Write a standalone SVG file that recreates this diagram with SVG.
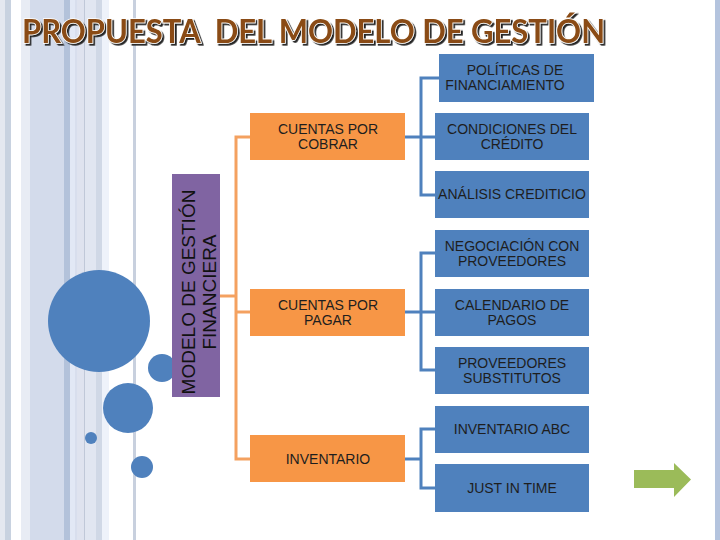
<svg xmlns="http://www.w3.org/2000/svg" width="720" height="540" viewBox="0 0 720 540">
<style>
.ob{fill:#f79646}
.bb{fill:#4f81bd}
.t{font-family:"Liberation Sans",Arial,sans-serif;font-size:14px;fill:#1e1e1e;text-anchor:middle}
.oc{fill:none;stroke:#f4a160;stroke-width:3}
.bc{fill:none;stroke:#4f81bd;stroke-width:3}
.dot{fill:#4f81bd}
</style>
<defs>
<filter id="shadow" x="-5%" y="-20%" width="110%" height="150%">
<feDropShadow dx="1.8" dy="1.8" stdDeviation="0.3" flood-color="#222222" flood-opacity="1"/>
</filter>
</defs>
<rect width="720" height="540" fill="#ffffff"/>
<g id="background">
<rect x="0" y="0" width="5" height="540" fill="#e4e8f0"/>
<rect x="5" y="0" width="6" height="540" fill="#c8d2e0"/>
<rect x="21" y="0" width="9" height="540" fill="#e8ecf4"/>
<rect x="30" y="0" width="34" height="540" fill="#d3dbeb"/>
<rect x="64" y="0" width="6" height="540" fill="#b3c2da"/>
<rect x="70" y="0" width="5" height="540" fill="#e2e8f5"/>
<rect x="75" y="0" width="2" height="540" fill="#d8deed"/>
<rect x="77" y="0" width="7" height="540" fill="#dfe3ef"/>
<rect x="84" y="0" width="1" height="540" fill="#c0c8d8"/>
<rect x="85" y="0" width="11" height="540" fill="#e1e6f1"/>
<rect x="96" y="0" width="6" height="540" fill="#d0d8e6"/>
<rect x="102" y="0" width="7" height="540" fill="#eef2fa"/>
<rect x="133" y="0" width="3" height="540" fill="#c8d0de"/>
<rect x="715" y="0" width="5" height="540" fill="#b4c4de"/>
<circle class="dot" cx="99" cy="321" r="51"/>
<circle class="dot" cx="162" cy="368" r="14"/>
<circle class="dot" cx="128" cy="408" r="25"/>
<circle class="dot" cx="91" cy="438" r="6"/>
<circle class="dot" cx="142" cy="467" r="11"/>
</g>
<g id="title" font-family="Lato,'Open Sans',sans-serif" font-weight="bold" font-size="33">
<text x="22" y="43" xml:space="preserve" fill="#8a4b12" stroke="#ffffff" stroke-width="1.6" paint-order="stroke" filter="url(#shadow)" textLength="583" lengthAdjust="spacingAndGlyphs">PROPUESTA  DEL MODELO DE GESTIÓN</text>
</g>
<g id="connectors">
<polyline class="oc" points="220,296 236,296"/>
<polyline class="oc" points="250,137 236,137 236,459 250,459"/>
<polyline class="oc" points="236,312 250,312"/>
<polyline class="bc" points="405,137 435,137"/>
<polyline class="bc" points="439,78 421,78 421,195 435,195"/>
<polyline class="bc" points="405,312 435,312"/>
<polyline class="bc" points="435,253 421,253 421,370 435,370"/>
<polyline class="bc" points="405,459 421,459"/>
<polyline class="bc" points="435,429 421,429 421,488 435,488"/>
</g>
<g id="root">
<rect x="172" y="174" width="48" height="223" fill="#8064a2"/>
<g transform="translate(195,292) rotate(-90)" font-family="'Liberation Sans',Arial,sans-serif" font-size="19" fill="#111" text-anchor="middle">
<text x="0" y="0">MODELO DE GESTIÓN</text>
<text x="0" y="21">FINANCIERA</text>
</g>
</g>
<g id="cobrar"><rect class="ob" x="250" y="113" width="155" height="47"/><text class="t" x="328" y="134">CUENTAS POR</text><text class="t" x="328" y="149">COBRAR</text></g>
<g id="pagar"><rect class="ob" x="250" y="289" width="155" height="47"/><text class="t" x="328" y="310">CUENTAS POR</text><text class="t" x="328" y="325">PAGAR</text></g>
<g id="inventario"><rect class="ob" x="250" y="435" width="155" height="47"/><text class="t" x="328" y="464">INVENTARIO</text></g>
<g id="politicas"><rect class="bb" x="439" y="54" width="155" height="48"/><text class="t" x="515" y="75">POLÍTICAS DE</text><text class="t" x="505" y="90">FINANCIAMIENTO</text></g>
<g id="condiciones"><rect class="bb" x="435" y="113" width="154" height="47"/><text class="t" x="512" y="134">CONDICIONES DEL</text><text class="t" x="512" y="149">CRÉDITO</text></g>
<g id="analisis"><rect class="bb" x="435" y="171" width="154" height="47"/><text class="t" x="512" y="199">ANÁLISIS CREDITICIO</text></g>
<g id="negociacion"><rect class="bb" x="435" y="230" width="154" height="47"/><text class="t" x="512" y="251">NEGOCIACIÓN CON</text><text class="t" x="512" y="266">PROVEEDORES</text></g>
<g id="calendario"><rect class="bb" x="435" y="289" width="154" height="47"/><text class="t" x="512" y="310">CALENDARIO DE</text><text class="t" x="512" y="325">PAGOS</text></g>
<g id="proveedores"><rect class="bb" x="435" y="347" width="154" height="47"/><text class="t" x="512" y="368">PROVEEDORES</text><text class="t" x="512" y="383">SUBSTITUTOS</text></g>
<g id="abc"><rect class="bb" x="435" y="406" width="154" height="47"/><text class="t" x="512" y="434">INVENTARIO ABC</text></g>
<g id="jit"><rect class="bb" x="435" y="464" width="154" height="48"/><text class="t" x="512" y="493">JUST IN TIME</text></g>
<g id="arrow"><polygon points="634,470 674,470 674,463 691,479.5 674,497 674,488 634,488" fill="#9bbb59"/></g>
</svg>
